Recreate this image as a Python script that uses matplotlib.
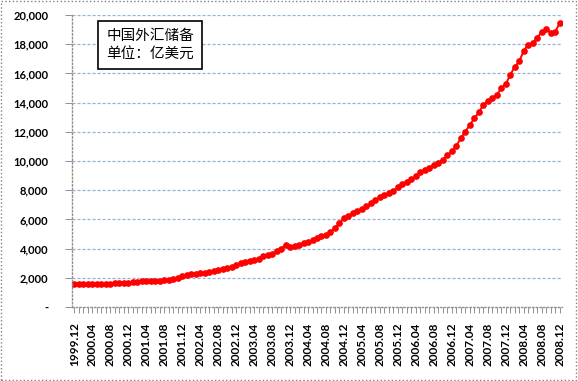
import matplotlib
matplotlib.use("Agg")
import matplotlib.pyplot as plt
from matplotlib.patches import Rectangle
import numpy as np

# monthly labels 1999.12 .. 2008.12
months = ["1999.12"] + ["%d.%02d" % (y, m) for y in range(2000, 2009) for m in range(1, 13)]

# China FX reserves, 100 million USD
reserves = [1547,
            1561, 1569, 1568, 1575, 1582, 1589, 1598, 1607, 1617, 1631, 1643, 1656,
            1684, 1715, 1759, 1770, 1799, 1808, 1810, 1832, 1879, 1933, 1970, 2122,
            2194, 2230, 2280, 2307, 2340, 2427, 2465, 2509, 2586, 2660, 2744, 2864,
            3025, 3062, 3160, 3200, 3297, 3465, 3566, 3646, 3839, 3990, 4250, 4090,
            4150, 4260, 4400, 4470, 4560, 4706, 4830, 4960, 5145, 5420, 5730, 6099,
            6236, 6426, 6591, 6707, 6910, 7110, 7327, 7533, 7690, 7827, 7943, 8189,
            8451, 8536, 8751, 8950, 9250, 9411, 9545, 9720, 9879, 10096, 10387, 10663,
            11046, 11566, 12020, 12470, 12926, 13326, 13852, 14086, 14336, 14547, 14968, 15282,
            15898, 16471, 16821, 17566, 17970, 18088, 18452, 18841, 19055, 18797, 18847, 19460]

yticks = list(range(0, 20001, 2000))
ylabels = ["-"] + ["{:,}".format(v) for v in yticks[1:]]

W, H = 578, 381
fig = plt.figure(figsize=(W / 100, H / 100), dpi=100)
ax = fig.add_axes([72 / W, 1 - 307 / H, (562 - 72) / W, (307 - 15) / H])

x = np.arange(len(months))
ax.plot(x, reserves, color="red", lw=1.4, marker="o", ms=3.8, mec="red", mfc="red")

ax.set_xlim(-0.5, len(months) - 0.5)
ax.set_ylim(0, 20000)

ax.set_yticks(yticks)
ax.set_yticklabels(ylabels, fontfamily="Lato", fontweight="bold", fontsize=8)
for v in yticks[1:]:
    ax.axhline(v, color="#95b3d7", lw=0.9, ls=(0, (2.5, 1.5)), zorder=0)

ax.set_xticks(x[::4])
ax.set_xticklabels(months[::4], rotation=90, fontfamily="Lato", fontweight="bold", fontsize=8.5)
ax.set_xticks(x, minor=True)
ax.tick_params(axis="x", which="both", length=4, color="#909090", width=0.7, pad=7)
ax.tick_params(axis="y", length=5, color="#909090", width=0.7, pad=12)

for s in ["top", "right"]:
    ax.spines[s].set_visible(False)
for s in ["left", "bottom"]:
    ax.spines[s].set_color("#909090")
    ax.spines[s].set_linestyle(":")
    ax.spines[s].set_linewidth(1.0)

fig.text(150 / W, 1 - 45 / H, "中国外汇储备\n单位：亿美元", ha="center", va="center",
         fontsize=10.5, family=["Noto Sans CJK SC", "DejaVu Sans"], linespacing=1.3,
         bbox=dict(boxstyle="square,pad=0.55", fc="white", ec="black", lw=1.2))

fig.patches.append(Rectangle((0.002, 0.003), 0.995, 0.994, transform=fig.transFigure,
                             fill=False, ec="#808080", lw=1.0, ls=":"))

fig.savefig("out.png", dpi=100)
